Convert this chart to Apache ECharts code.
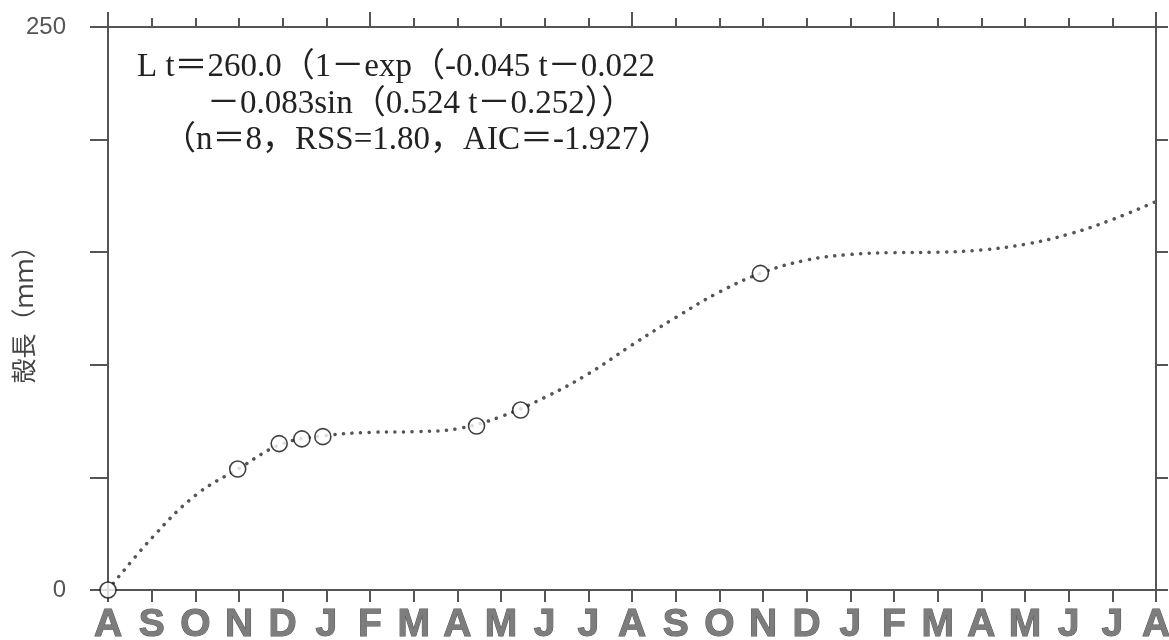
<!DOCTYPE html>
<html>
<head>
<meta charset="utf-8">
<title>殻長</title>
<script src="https://cdn.jsdelivr.net/npm/echarts@6/dist/echarts.min.js"></script>
<style>
  html, body { margin: 0; padding: 0; background: #fff; }
  #main { width: 1169px; height: 640px; }
</style>
</head>
<body>
<div id="main"></div>
<script>
// month ticks, Aug .. Aug (24 months)
var monthLabels = ['A','S','O','N','D','J','F','M','A','M','J','J','A','S','O','N','D','J','F','M','A','M','J','J','A'];

// fitted growth curve (t in months from Aug)
var curveT = [0,1,2,3,4,5,6,7,8,9,10,11,12,13,14,15,16,17,18,19,20,21,22,23,24];
var curveL = [0,23,42,54,65,68.6,70,70.3,71.6,77,85.5,96,108.8,121,132.3,141,146.5,149,149.8,150,151,153.5,158,164.5,172.5];

// observed shell lengths (circles)
var obsT = [0, 2.97, 3.92, 4.44, 4.92, 8.44, 9.45, 14.94];
var obsL = [0, 53.7, 65.0, 67.1, 68.1, 72.8, 79.9, 140.6];

var yTicks = [0, 250];

var eqLines = [
  'L t＝260.0（1－exp（-0.045 t－0.022',
  '－0.083sin（0.524 t－0.252））',
  '（n＝8，RSS=1.80，AIC＝-1.927）'
];

var axisColor = '#555';
var serif = "'Liberation Serif', 'Noto Sans CJK JP', serif";

function pairs(xs, ys) {
  var out = [];
  for (var i = 0; i < xs.length; i++) out.push([xs[i], ys[i]]);
  return out;
}

var chart = echarts.init(document.getElementById('main'));

var xBase = {
  type: 'value',
  min: 0,
  max: 24,
  interval: 1,
  splitLine: { show: false },
  axisLine: { onZero: false, lineStyle: { color: axisColor, width: 2 } },
  axisTick: { inside: false, length: 12, lineStyle: { color: axisColor, width: 2 } },
  axisLabel: { show: false }
};

var option = {
  animation: false,
  backgroundColor: '#fff',
  grid: { left: 108, right: 13, top: 27, bottom: 50, outerBoundsMode: 'none', containLabel: false },
  xAxis: [
    echarts.util.merge(echarts.util.clone(xBase), {
      position: 'bottom',
      axisLabel: {
        show: true,
        margin: 16,
        fontSize: 39,
        fontWeight: 'bold',
        fontFamily: "'Liberation Sans Narrow', 'Liberation Sans', Arial, sans-serif",
        color: '#7d7d7d',
        textBorderColor: '#555',
        textBorderWidth: 1,
        formatter: function (v) { return monthLabels[v] || ''; }
      }
    }, true),
    echarts.util.merge(echarts.util.clone(xBase), {
      position: 'top',
      axisTick: { length: 9 }
    }, true),
    // longer ticks on top every half year
    echarts.util.merge(echarts.util.clone(xBase), {
      position: 'top',
      interval: 6,
      axisLine: { show: false },
      axisTick: { length: 15 }
    }, true)
  ],
  yAxis: [
    {
      type: 'value',
      position: 'left',
      min: 0,
      max: 250,
      interval: 50,
      splitLine: { show: false },
      axisLine: { show: true, onZero: false, lineStyle: { color: axisColor, width: 2 } },
      axisTick: { show: true, length: 18, lineStyle: { color: axisColor, width: 2 } },
      axisLabel: {
        margin: 42,
        fontSize: 24,
        color: '#555',
        fontFamily: "'Liberation Sans', Arial, sans-serif",
        formatter: function (v) { return yTicks.indexOf(v) >= 0 ? String(v) : ''; }
      },
      name: '殻長（ｍｍ）',
      nameLocation: 'middle',
      nameRotate: 90,
      nameGap: 72,
      nameMoveOverlap: false,
      nameTextStyle: {
        fontSize: 25,
        color: '#444',
        fontFamily: "'Noto Sans CJK JP', sans-serif"
      }
    },
    {
      type: 'value',
      position: 'right',
      min: 0,
      max: 250,
      interval: 50,
      splitLine: { show: false },
      axisLine: { show: true, onZero: false, lineStyle: { color: axisColor, width: 2 } },
      axisTick: { show: true, length: 12, lineStyle: { color: axisColor, width: 2 } },
      axisLabel: { show: false }
    }
  ],
  graphic: [
    { type: 'text', left: 137, top: 51, style: { text: eqLines[0], fontSize: 33, fontFamily: serif, fill: '#222' } },
    { type: 'text', left: 207, top: 88, style: { text: eqLines[1], fontSize: 33, fontFamily: serif, fill: '#222' } },
    { type: 'text', left: 163, top: 124, style: { text: eqLines[2], fontSize: 33, fontFamily: serif, fill: '#222' } }
  ],
  series: [
    {
      name: 'curve',
      type: 'line',
      xAxisIndex: 0,
      yAxisIndex: 0,
      data: pairs(curveT, curveL),
      smooth: 0.4,
      showSymbol: false,
      z: 2,
      lineStyle: { color: '#555', width: 3.5, type: [0.1, 8.5], cap: 'round' }
    },
    {
      name: 'observed',
      type: 'scatter',
      xAxisIndex: 0,
      yAxisIndex: 0,
      data: pairs(obsT, obsL),
      symbol: 'circle',
      symbolSize: 16,
      clip: false,
      z: 5,
      itemStyle: { color: '#fff', borderColor: '#111', borderWidth: 1.6 }
    }
  ]
};

chart.setOption(option);
</script>
</body>
</html>
